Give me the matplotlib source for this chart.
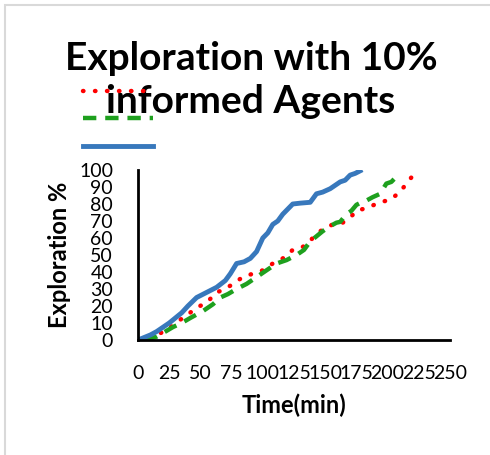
import matplotlib
matplotlib.use('Agg')
import matplotlib.pyplot as plt
from matplotlib.patches import Rectangle

# series (time in min, exploration in %)
t_red = [0, 10, 18, 25, 32, 39, 47, 55, 63, 70, 74, 84, 92, 100, 108, 116, 124, 130, 135, 140, 146, 156, 164, 170, 175, 180, 186, 194, 202, 210, 216, 223]
y_red = [0, 2, 4, 7, 11, 14.5, 19, 22, 28, 30, 32, 37, 39, 41, 45, 48, 53, 54, 56, 60, 64, 68, 69, 72, 76, 77, 78.5, 81, 82.5, 87, 93, 99]

t_green = [5, 10, 15, 22, 28, 35, 42, 47, 52, 60, 66, 72, 79, 87, 95, 103, 111, 119, 127, 133, 138, 143, 148, 154, 159, 162, 167, 171, 175, 179, 183, 188, 194, 199, 203, 207]
y_green = [0, 1, 2, 5, 7.6, 10, 13, 15, 17, 21, 25, 27, 30, 33, 37, 41, 45, 47, 50, 53, 58, 61, 64, 67, 69, 69.5, 74, 76, 79.5, 81, 82, 84, 86, 92, 93, 96]

t_blue = [0, 5, 10, 15, 20, 25, 30, 35, 40, 47, 55, 63, 70, 74, 79, 85, 90, 95, 100, 104, 108, 112, 116, 120, 124, 130, 138, 143, 148, 154, 158, 162, 166, 170, 174, 178]
y_blue = [0, 1.5, 3, 5, 7.5, 10, 13, 16, 20, 25, 28, 31, 35, 39, 45, 46, 48, 52, 60, 63, 68, 70, 74, 77, 80, 80.5, 81, 86, 87, 89, 91, 93, 94, 97, 98, 99.5]

x_ticks = [0, 25, 50, 75, 100, 125, 150, 175, 200, 225, 250]
y_ticks = [0, 10, 20, 30, 40, 50, 60, 70, 80, 90, 100]

plt.rcParams['font.family'] = ['Lato', 'DejaVu Sans']

fig = plt.figure(figsize=(4.9, 4.55), dpi=100)
ax = fig.add_axes([138 / 490, 1 - 340 / 455, 312 / 490, 170 / 455])

l1, = ax.plot(t_red, y_red, color='#FF0000', lw=3.2, linestyle=(0, (0.1, 2.6)), dash_capstyle='round')
l2, = ax.plot(t_green, y_green, color='#1EA01E', lw=3.2, linestyle=(0, (3, 2)))
l3, = ax.plot(t_blue, y_blue, color='#3878BC', lw=3.5)

ax.set_xlim(0, 250)
ax.set_ylim(0, 100)
ax.set_xticks(x_ticks)
ax.set_yticks(y_ticks)
ax.tick_params(length=0, labelsize=14, pad=18)
for s in ['top', 'right']:
    ax.spines[s].set_visible(False)
for s in ['left', 'bottom']:
    ax.spines[s].set_linewidth(2)

ax.set_xlabel('Time(min)', fontsize=17, fontweight='bold', labelpad=8)
ax.set_ylabel('Exploration %', fontsize=17, fontweight='bold', labelpad=6)

fig.text(251 / 490, 1 - 80 / 455, 'Exploration with 10%\ninformed Agents', ha='center', va='center',
         fontsize=28, fontweight='bold', linespacing=1.25)

fig.legend([l1, l2, l3], ['', '', ''], loc='upper left', bbox_to_anchor=(83 / 490, 1 - 84 / 455),
           frameon=False, borderpad=0, borderaxespad=0, handlelength=3.6, handletextpad=0,
           labelspacing=0.53, fontsize=14)

fig.add_artist(Rectangle((5 / 490, -0.5), 2, 1.5 - 5 / 455, transform=fig.transFigure,
                         fill=False, edgecolor='#D9D9D9', lw=1.5))

fig.savefig('out.png', dpi=100)
